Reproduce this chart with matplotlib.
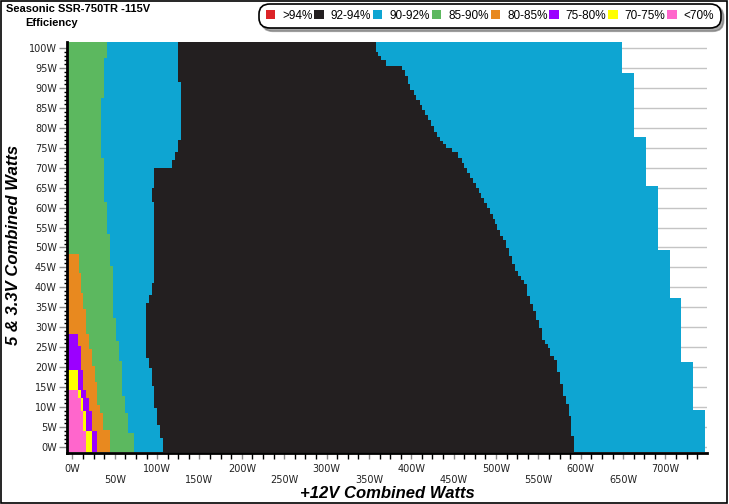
import numpy as np
import matplotlib
matplotlib.use("Agg")
import matplotlib.pyplot as plt
from matplotlib.patches import Patch, Rectangle

plt.rcParams["font.family"] = ["Liberation Sans", "DejaVu Sans"]

# ── legend bands ─────────────────────────────────────────────────────
band_labels = [">94%", "92-94%", "90-92%", "85-90%", "80-85%", "75-80%", "70-75%", "<70%"]
band_colors = ["#dc2327", "#231f20", "#0ea5d2", "#5cb85f", "#e8891f", "#9b00ff", "#ffff00", "#ff66cc"]

# ── zone edges ───────────────────────────────────────────────────────
# each zone: row breakpoints on the 5V & 3.3V axis (W, top to bottom)
# and the +12V load (W) where that zone ends, one value per row
max_load_rows = [101.5, 93.6, 77.6, 65.4, 49.4, 37.3, 21.35, 9.4, -1.1]
max_load_x = [648.9, 663.4, 677.2, 691.7, 705.5, 718.9, 733.0, 747.2]

eff92_rows = [101.5, 99.0, 98.0, 96.9, 95.5, 94.4, 93.0, 90.8, 89.4, 88.2, 86.9,
              85.7, 84.4, 83.2, 81.9, 80.5, 79.0, 77.75, 76.7, 75.8, 74.8, 73.8,
              72.3, 71.1, 69.8, 68.6, 67.3, 66.1, 64.8, 63.6, 62.3, 61.1, 59.8,
              58.5, 57.2, 55.9, 54.4, 52.9, 51.9, 49.8, 47.9, 45.9, 44.0, 42.9,
              41.9, 40.9, 37.9, 35.9, 34.0, 31.9, 29.8, 26.9, 25.9, 24.8, 22.9,
              21.75, 18.75, 15.9, 12.9, 10.9, 7.9, 2.9, -1.1]
eff92_x = [358.0, 361.2, 364.8, 370.7, 389.5, 392.6, 395.8, 399.0, 402.8, 405.9,
           409.9, 413.0, 416.6, 420.1, 423.7, 427.2, 430.8, 434.3, 437.4, 441.4,
           448.4, 455.5, 459.5, 462.6, 466.2, 469.7, 473.2, 476.8, 479.9, 482.7,
           486.2, 489.3, 492.5, 496.0, 499.0, 501.5, 504.2, 508.1, 511.3, 514.9,
           518.4, 522.0, 525.5, 529.0, 532.5, 536.0, 539.6, 543.2, 546.7, 550.3,
           553.8, 557.3, 560.8, 564.0, 568.0, 571.5, 575.0, 578.5, 582.0, 585.6,
           588.8, 591.5]

eff90_rows = [101.5, 91.5, 76.9, 74.0, 71.9, 70.0, 65.0, 61.5, 41.1, 38.2, 36.1,
              22.3, 19.8, 15.3, 9.8, 5.7, 2.3, -1.1]
eff90_x = [124.9, 128.0, 124.9, 121.0, 117.0, 96.2, 93.5, 96.2, 93.5, 90.3, 86.8,
           90.3, 93.5, 96.2, 99.8, 103.3, 106.5]

eff85_rows = [101.5, 97.5, 87.5, 72.3, 61.5, 53.3, 45.4, 32.4, 26.5, 21.5, 12.75,
              8.6, 3.6, -1.1]
eff85_x = [40.4, 37.3, 33.7, 37.3, 40.4, 44.3, 48.3, 51.4, 55.0, 58.5, 62.0, 66.0, 72.6]

eff80_rows = [48.4, 43.6, 38.6, 34.6, 28.4, 24.6, 20.3, 16.3, 10.7, 8.6, 4.4, -1.1]
eff80_x = [7.4, 10.1, 12.9, 16.0, 19.2, 22.7, 26.3, 29.4, 32.5, 36.4, 44.3]

eff75_rows = [28.4, 25.4, 19.4, 14.4, 12.3, 9.0, 4.0, -1.1]
eff75_x = [6.2, 10.1, 12.9, 16.0, 19.2, 22.7, 29.4]

eff70_rows = [19.4, 14.4, 12.3, 9.0, 4.0, -1.1]
eff70_x = [7.0, 10.1, 12.9, 16.0, 22.7]

low_rows = [14.4, 12.3, 9.0, 4.0, -1.1]
low_x = [6.6, 10.1, 12.9, 16.0]

X_MIN, X_MAX = -6, 749
Y_MIN, Y_MAX = -1.3, 101.5


def draw_zone(ax, rows, xs, color):
    rows = np.asarray(rows, dtype=float)
    tops, bottoms = rows[:-1], rows[1:]
    ax.barh((tops + bottoms) / 2, np.asarray(xs) - X_MIN, left=X_MIN,
            height=tops - bottoms, color=color, linewidth=0, antialiased=False,
            zorder=2)


fig = plt.figure(figsize=(7.29, 5.04), dpi=100)
ax = fig.add_axes([67.3 / 729, 51.5 / 504, (707 - 67.3) / 729, (462.3 - 51.5) / 504])

# paint from the outer (right) zone inward
draw_zone(ax, max_load_rows, max_load_x, band_colors[2])
draw_zone(ax, eff92_rows, eff92_x, band_colors[1])
draw_zone(ax, eff90_rows, eff90_x, band_colors[2])
draw_zone(ax, eff85_rows, eff85_x, band_colors[3])
draw_zone(ax, eff80_rows, eff80_x, band_colors[4])
draw_zone(ax, eff75_rows, eff75_x, band_colors[5])
draw_zone(ax, eff70_rows, eff70_x, band_colors[6])
draw_zone(ax, low_rows, low_x, band_colors[7])

ax.set_xlim(X_MIN, X_MAX)
ax.set_ylim(Y_MIN, Y_MAX)

# y axis
y_major = np.arange(0, 101, 5)
ax.set_yticks(y_major)
ax.set_yticklabels([f"{v}W" for v in y_major], family="DejaVu Sans", fontsize=7, color="#222222")
ax.set_yticks(np.arange(0, 101, 1), minor=True)
ax.tick_params(axis="y", which="major", length=6, width=1, color="#8a8a8a", pad=1.5)
ax.tick_params(axis="y", which="minor", length=2.5, width=1, color="black")

# x axis, labels alternate between two rows
x_major = np.arange(0, 701, 50)
ax.set_xticks(x_major)
ax.set_xticklabels([f"{v}W" if i % 2 == 0 else f"\n{v}W" for i, v in enumerate(x_major)],
                   family="DejaVu Sans", fontsize=7, color="#222222", linespacing=1.15)
ax.set_xticks(np.arange(0, 748, 12.5), minor=True)
ax.tick_params(axis="x", which="major", length=4, width=1, color="#8a8a8a", pad=4)
ax.tick_params(axis="x", which="minor", length=4, width=1, color="black")

ax.grid(axis="y", which="major", color="#c4c4c4", linewidth=1, zorder=0)
ax.set_axisbelow(True)
for side in ("top", "right"):
    ax.spines[side].set_visible(False)
for side in ("left", "bottom"):
    ax.spines[side].set_linewidth(2)
    ax.spines[side].set_zorder(3)

# titles and axis labels
fig.text(6 / 729, 1 - 4 / 504, "Seasonic SSR-750TR -115V", fontsize=8, fontweight="bold",
         ha="left", va="top")
fig.text(25 / 729, 1 - 18 / 504, "Efficiency", fontsize=8, fontweight="bold",
         ha="left", va="top")
fig.text(387 / 729, 1 - 493 / 504, "+12V Combined Watts", fontsize=12, fontweight="bold",
         fontstyle="italic", ha="center", va="center")
fig.text(14 / 729, 1 - 245 / 504, "5 & 3.3V Combined Watts", fontsize=12, fontweight="bold",
         fontstyle="italic", ha="center", va="center", rotation=90)

# legend
handles = [Patch(facecolor=c, edgecolor="none", label=l) for c, l in zip(band_colors, band_labels)]
leg = fig.legend(handles=handles, ncol=8, loc="center", bbox_to_anchor=(490 / 729, 1 - 16 / 504),
                 fontsize=8.5, frameon=True, fancybox=True, shadow={"color": "#555555"},
                 handlelength=0.8, handleheight=0.8, handletextpad=0.6,
                 columnspacing=0.15, borderpad=0.4, borderaxespad=0)
frame = leg.get_frame()
frame.set_edgecolor("black")
frame.set_linewidth(1.2)
frame.set_alpha(1)
frame.set_boxstyle("round", pad=0.15, rounding_size=0.9)

# figure border
fig.patches.append(Rectangle((0.001, 0.002), 0.996, 0.996, transform=fig.transFigure,
                             fill=False, edgecolor="black", linewidth=1.2))

fig.savefig("out.png", dpi=100)
